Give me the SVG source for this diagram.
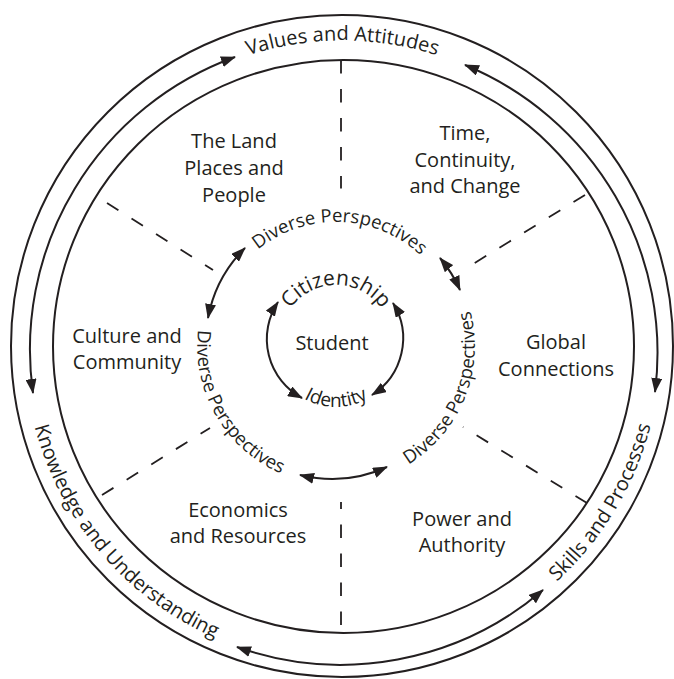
<svg xmlns="http://www.w3.org/2000/svg" width="674" height="679" viewBox="0 0 674 679">
<style>
.ln{fill:none;stroke:#231f20;stroke-width:2}
.ar{fill:none;stroke:#231f20;stroke-width:2;marker-start:url(#ah);marker-end:url(#ah)}
.ds{fill:none;stroke:#231f20;stroke-width:1.8;stroke-dasharray:13.5 15.5}
.t{font-family:"Open Sans","Noto Sans",sans-serif;font-size:20px;fill:#231f20;text-anchor:middle}
.d{font-size:18.5px}
</style>
<defs>
<marker id="ah" viewBox="0 0 15 11" refX="14" refY="5.5" markerWidth="15" markerHeight="11" markerUnits="userSpaceOnUse" orient="auto-start-reverse"><path d="M0,0 L15,5.5 L0,11 Z" fill="#231f20"/></marker>
<path id="pVal" d="M 77.5,193.5 A 306 306 0 0 1 607.5,193.5"/>
<path id="pKno" d="M 42.7,240.3 A 318 318 0 0 0 400.4,659.2"/>
<path id="pSki" d="M 336.9,664.5 A 318 318 0 0 0 620.6,192.3"/>
<path id="pDT" d="M 214.7,320.2 A 124 124 0 0 1 458.8,328.7"/>
<path id="pDL" d="M 246.7,239.5 A 139 139 0 0 0 383.5,476.6"/>
<path id="pDR" d="M 307.3,482 A 139 139 0 0 0 409.4,228"/>
<path id="pCit" d="M 280,341 A 56 56 0 0 1 392,341"/>
<path id="pIde" d="M 270,341 A 66 66 0 0 0 402,341"/>
</defs>
<rect width="674" height="679" fill="#ffffff"/>

<g id="rings">
<circle class="ln" cx="342" cy="346" r="331"/>
<ellipse class="ln" cx="343.5" cy="346.5" rx="290.5" ry="286.5"/>
</g>

<g id="connectors">
<path class="ar" d="M 33,393 A 311 311 0 0 1 235,57"/>
<path class="ar" d="M 465,65 A 311 311 0 0 1 655,392"/>
<path class="ar" d="M 543,590 A 311 311 0 0 1 237,647"/>
<path class="ar" d="M 208,318 A 133 133 0 0 1 245,248"/>
<path class="ar" d="M 440,258 A 133 133 0 0 1 460,290"/>
<path class="ar" d="M 387,467 A 133 133 0 0 1 300,475"/>
<path class="ar" d="M 302,398 A 67 67 0 0 1 278,302"/>
<path class="ar" d="M 393,303 A 67 67 0 0 1 372,395"/>
</g>

<g id="dividers">
<path class="ds" d="M 341,60 V 188.5"/>
<path class="ds" d="M 585,195 L 473,264"/>
<path class="ds" d="M 587,503 L 463,427"/>
<path class="ds" d="M 341,625 V 502"/>
<path class="ds" d="M 102,495 L 210,428"/>
<path class="ds" d="M 107,203 L 213,270"/>
</g>

<g id="values"><text class="t"><textPath href="#pVal" startOffset="50%">Values and Attitudes</textPath></text></g>
<g id="knowledge"><text class="t"><textPath href="#pKno" startOffset="50%">Knowledge and Understanding</textPath></text></g>
<g id="skills"><text class="t"><textPath href="#pSki" startOffset="50%">Skills and Processes</textPath></text></g>

<g id="land"><text class="t" x="234" y="148">The Land</text><text class="t" x="234" y="175">Places and</text><text class="t" x="234" y="202">People</text></g>
<g id="time"><text class="t" x="465" y="140">Time,</text><text class="t" x="465" y="167">Continuity,</text><text class="t" x="465" y="193">and Change</text></g>
<g id="culture"><text class="t" x="127" y="343">Culture and</text><text class="t" x="127" y="369">Community</text></g>
<g id="global"><text class="t" x="556" y="349">Global</text><text class="t" x="556" y="376">Connections</text></g>
<g id="economics"><text class="t" x="238" y="517">Economics</text><text class="t" x="238" y="543">and Resources</text></g>
<g id="power"><text class="t" x="462" y="526">Power and</text><text class="t" x="462" y="552">Authority</text></g>

<g id="diverse-top"><text class="t d"><textPath href="#pDT" startOffset="50%">Diverse Perspectives</textPath></text></g>
<g id="diverse-left"><text class="t d"><textPath href="#pDL" startOffset="50%">Diverse Perspectives</textPath></text></g>
<g id="diverse-right"><text class="t d"><textPath href="#pDR" startOffset="50%">Diverse Perspectives</textPath></text></g>

<g id="citizenship"><text class="t" style="font-size:21px"><textPath href="#pCit" startOffset="50%">Citizenship</textPath></text></g>
<g id="student"><text class="t" x="332" y="350">Student</text></g>
<g id="identity"><text class="t" style="font-size:19px"><textPath href="#pIde" startOffset="50%">Identity</textPath></text></g>
</svg>
